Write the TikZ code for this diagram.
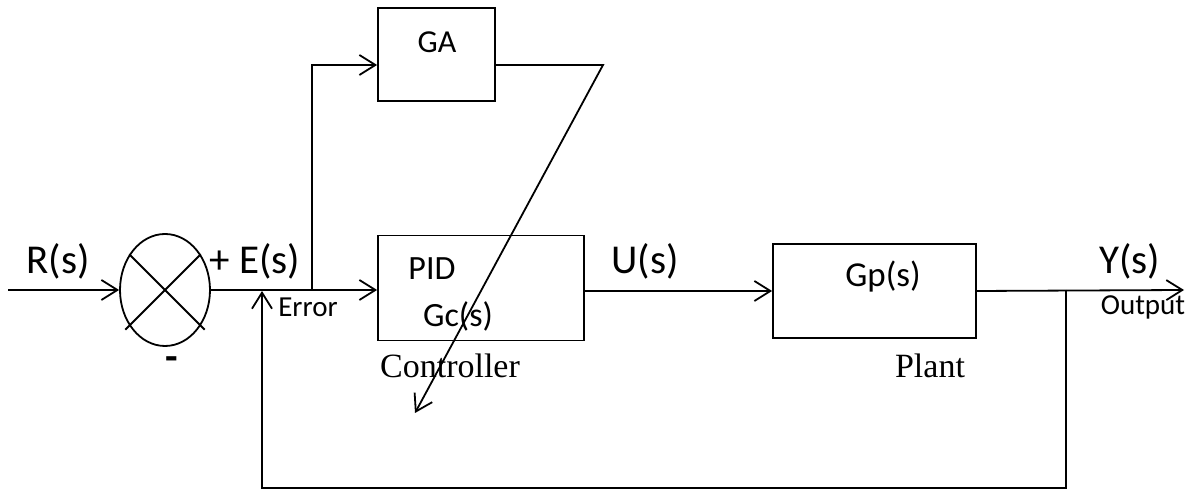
\documentclass[tikz,border=0pt]{standalone}
\usepackage{fontspec}
\setmainfont{Carlito}
\newfontfamily\tnr{Liberation Serif}
\usepackage{tikz}
\usetikzlibrary{shapes.geometric,arrows.meta,positioning,calc}

\begin{document}
\begin{tikzpicture}[
  x=0.5pt,y=-0.5pt,line width=0.9pt,
  box/.style={rectangle,draw,inner sep=0pt},
  sumnode/.style={ellipse,draw,inner sep=0pt,minimum width=45pt,minimum height=56pt},
  arrow/.style={-{Straight Barb[length=8pt,width=10pt]}},
  sig/.style={font=\fontsize{20.5pt}{25pt}\selectfont,inner sep=0pt},
  inlbl/.style={font=\fontsize{17pt}{20pt}\selectfont,inner sep=0pt},
  small/.style={font=\fontsize{14.5pt}{17pt}\selectfont,inner sep=0pt},
  caption/.style={font=\tnr\fontsize{17pt}{20pt}\selectfont,inner sep=0pt}
]
\useasboundingbox (0,0) rectangle (1200,490);

% blocks
\node[sumnode] (sum) at (165,290) {};
\node[box,minimum width=58.5pt,minimum height=46.5pt] (ga)  at (436.5,54.5) {};
\node[box,minimum width=103pt,minimum height=52.5pt]  (pid) at (481,288) {};
\node[box,minimum width=101.5pt,minimum height=47pt]  (gp)  at (874.5,291) {};
\draw (sum.45) -- ([shift={(-4,4)}]sum.225);
\draw (sum.135) -- ([shift={(4,4)}]sum.315);

% texts
\node[sig] (rs) at (58,261) {R(s)};
\node[sig] (es) at (255,261) {+ E(s)};
\node[sig] (minus) at (172,364) {\textbf{-}};
\node[small] (errlbl) at (308,307) {Error};
\node[inlbl,font=\fontsize{16pt}{19pt}\selectfont] (galbl) at (437,42) {GA};
\node[inlbl] (pidlbl) at (432,269) {PID};
\node[inlbl] (gclbl) at (458,316) {Gc(s)};
\node[caption] (ctrl) at (450,366) {Controller};
\node[sig] (us) at (645,261) {U(s)};
\node[inlbl,font=\fontsize{17.5pt}{20pt}\selectfont] (gplbl) at (883,277) {Gp(s)};
\node[caption] (plant) at (930,366) {Plant};
\node[sig] (ys) at (1130,261) {Y(s)};
\node[small] (outlbl) at (1143,307) {Output};

% free ends
\coordinate (in)   at (8,290);
\coordinate (tap)  at (312,290);
\coordinate (kink) at (603,65);
\coordinate (tune) at (415,413);
\coordinate (out)  at (1184,290);
\coordinate (fb)   at (1066,290);
\coordinate (err)  at (262,291);

% signal flow
\draw[arrow] (in) -- (sum.west);
\draw[arrow] (sum.east) -- (pid.west |- sum.east);
\draw[arrow] (tap) |- ([yshift=-5.25pt]ga.west);
\draw[arrow] ([yshift=-5.25pt]ga.east) -- (kink) -- (tune);
\draw[arrow] (pid.east |- gp.west) -- (gp.west);
\draw[arrow] (gp.east) -- (out);
\draw[arrow] (fb) -- ++(0,198) -| (err);
\end{tikzpicture}
\end{document}
